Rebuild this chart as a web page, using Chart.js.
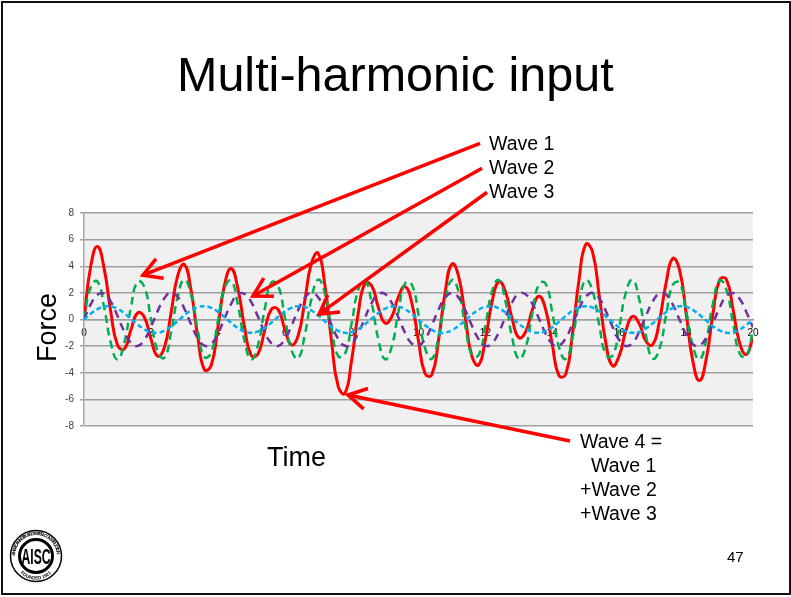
<!DOCTYPE html>
<html><head><meta charset="utf-8">
<script src="https://cdn.jsdelivr.net/npm/chart.js@4"></script>
<style>
html,body{margin:0;padding:0;background:#fff;overflow:hidden}
#slide{position:relative;width:791px;height:597px;background:#fff;font-family:"Liberation Sans",Arial,sans-serif;color:#000}
#frame{position:absolute;left:1px;top:1px;width:786px;height:590px;border:2px solid #111;box-sizing:content-box;pointer-events:none}
canvas{position:absolute;left:0;top:0}
.t{position:absolute;white-space:pre;line-height:1}
#logo{position:absolute;left:8px;top:528px}
</style></head><body>
<div id="slide">
<canvas id="c" width="791" height="597"></canvas>
<div id="frame"></div>
<div class="t" style="left:177px;top:50px;font-size:48.500px">Multi-harmonic input</div>
<div class="t" style="left:489px;top:134px;font-size:19.500px">Wave 1</div>
<div class="t" style="left:489px;top:158px;font-size:19.500px">Wave 2</div>
<div class="t" style="left:489px;top:182px;font-size:19.500px">Wave 3</div>
<div class="t" style="left:580px;top:432px;font-size:19.500px">Wave 4 =</div>
<div class="t" style="left:591px;top:456px;font-size:19.500px">Wave 1</div>
<div class="t" style="left:580px;top:480px;font-size:19.500px">+Wave 2</div>
<div class="t" style="left:580px;top:504px;font-size:19.500px">+Wave 3</div>
<div class="t" style="left:267px;top:444px;font-size:27px">Time</div>
<div class="t" style="left:34px;top:362px;font-size:27px;transform-origin:0 0;transform:rotate(-90deg)">Force</div>
<div class="t" style="left:727px;top:549px;font-size:15px">47</div>
<svg id="logo" width="56" height="56" viewBox="0 0 56 56">
<defs><path id="ringTop" d="M7 28a21 21 0 0 1 42 0"/><path id="ringBot" d="M6.500 30a21.500 21.500 0 0 0 43 0"/></defs>
<circle cx="28" cy="28" r="25.500" fill="#fff" stroke="#000" stroke-width="1.500"/>
<circle cx="28" cy="28" r="16.500" fill="#fff" stroke="#000" stroke-width="3"/>
<text font-family="Liberation Sans" font-size="4.600" font-weight="bold"><textPath href="#ringTop" textLength="64">AMERICAN INSTITUTE OF STEEL CONSTRUCTION</textPath></text>
<text font-family="Liberation Sans" font-size="4.600" font-weight="bold" text-anchor="middle"><textPath href="#ringBot" startOffset="50%">FOUNDED 1921</textPath></text>
<text x="28" y="36" text-anchor="middle" font-family="Liberation Sans" font-size="22" font-weight="bold" textLength="29" lengthAdjust="spacingAndGlyphs">AISC</text>
</svg>
</div>
<script>
const times = [0,0.2,0.4,0.6,0.8,1,1.2,1.4,1.6,1.8,2,2.2,2.4,2.6,2.8,3,3.2,3.4,3.6,3.8,4,4.2,4.4,4.6,4.8,5,5.2,5.4,5.6,5.8,6,6.2,6.4,6.6,6.8,7,7.2,7.4,7.6,7.8,8,8.2,8.4,8.6,8.8,9,9.2,9.4,9.6,9.8,10,10.2,10.4,10.6,10.8,11,11.2,11.4,11.6,11.8,12,12.2,12.4,12.6,12.8,13,13.2,13.4,13.6,13.8,14,14.2,14.4,14.6,14.8,15,15.2,15.4,15.6,15.8,16,16.2,16.4,16.6,16.8,17,17.2,17.4,17.6,17.8,18,18.2,18.4,18.6,18.8,19,19.2,19.4,19.6,19.8,20];
const wave1 = [0,2.42,2.86,0.94,-1.74,-3,-1.8,0.88,2.84,2.47,0.08,-2.38,-2.88,-1.02,1.68,3,1.86,-0.81,-2.81,-2.51,-0.15,2.33,2.9,1.09,-1.62,-2.99,-1.92,0.73,2.78,2.55,0.22,-2.28,-2.92,-1.16,1.55,2.99,1.97,-0.66,-2.75,-2.59,-0.3,2.24,2.93,1.23,-1.49,-2.98,-2.03,0.59,2.72,2.62,0.37,-2.19,-2.95,-1.29,1.43,2.97,2.08,-0.52,-2.69,-2.66,-0.44,2.13,2.96,1.36,-1.36,-2.96,-2.13,0.44,2.66,2.69,0.52,-2.08,-2.97,-1.43,1.29,2.95,2.19,-0.37,-2.62,-2.72,-0.59,2.03,2.98,1.49,-1.23,-2.93,-2.24,0.3,2.59,2.75,0.66,-1.97,-2.99,-1.55,1.16,2.92,2.28,-0.22,-2.55,-2.78,-0.73];
const wave2 = [0,1.13,1.86,1.95,1.35,0.28,-0.89,-1.74,-1.99,-1.55,-0.56,0.62,1.59,2,1.71,0.82,-0.35,-1.4,-1.96,-1.84,-1.07,0.07,1.18,1.89,1.93,1.3,0.22,-0.94,-1.78,-1.99,-1.5,-0.49,0.69,1.63,2,1.67,0.76,-0.41,-1.45,-1.97,-1.81,-1.02,0.13,1.24,1.91,1.91,1.25,0.15,-1.01,-1.81,-1.98,-1.46,-0.43,0.75,1.67,2,1.64,0.7,-0.48,-1.49,-1.98,-1.78,-0.96,0.2,1.29,1.93,1.89,1.2,0.08,-1.06,-1.83,-1.96,-1.41,-0.36,0.81,1.7,2,1.6,0.64,-0.55,-1.54,-1.99,-1.75,-0.9,0.27,1.34,1.95,1.87,1.14,0.01,-1.12,-1.86,-1.95,-1.36,-0.3,0.87,1.74,1.99,1.56,0.57,-0.61];
const wave3 = [0,0.43,0.77,0.97,0.98,0.81,0.48,0.06,-0.37,-0.73,-0.95,-0.99,-0.84,-0.53,-0.12,0.31,0.69,0.93,1,0.88,0.59,0.18,-0.25,-0.64,-0.91,-1,-0.9,-0.63,-0.24,0.19,0.59,0.88,1,0.93,0.68,0.3,-0.13,-0.54,-0.85,-0.99,-0.95,-0.72,-0.36,0.07,0.49,0.81,0.98,0.97,0.77,0.42,-0.01,-0.43,-0.78,-0.97,-0.98,-0.8,-0.47,-0.05,0.38,0.74,0.95,0.99,0.84,0.53,0.11,-0.32,-0.69,-0.93,-1,-0.87,-0.58,-0.18,0.26,0.65,0.91,1,0.9,0.63,0.24,-0.2,-0.6,-0.88,-1,-0.93,-0.67,-0.3,0.14,0.55,0.85,0.99,0.95,0.72,0.35,-0.08,-0.5,-0.82,-0.99,-0.96,-0.76,-0.41,0.02];
const wave4 = [0,3.98,5.49,3.86,0.59,-1.91,-2.21,-0.8,0.48,0.19,-1.44,-2.75,-2.13,0.45,3.27,4.13,2.19,-1.28,-3.77,-3.47,-0.64,2.58,3.83,2.33,-0.59,-2.69,-2.6,-0.84,0.76,0.76,-0.69,-1.9,-1.23,1.4,4.23,4.97,2.6,-1.62,-5.05,-5.55,-3.06,0.5,2.71,2.53,0.91,-0.26,0.21,1.71,2.48,1.24,-1.62,-4.08,-4.15,-1.52,2.11,4.17,3.24,0.13,-2.79,-3.41,-1.47,1.34,2.84,2.09,0.05,-1.36,-0.94,0.7,1.74,0.76,-1.89,-4.22,-4.12,-1.14,3.01,5.65,5.09,1.85,-1.75,-3.47,-2.73,-0.85,0.23,-0.33,-1.63,-1.89,-0.15,2.72,4.58,3.76,0.49,-3.11,-4.59,-2.99,0.37,2.97,3.03,0.81,-1.75,-2.62,-1.33];
const arrowTipX = [1.76,5.05,7.03,7.89];
const arrowTipY = [3.33,1.76,0.4,-5.67];
const arrowTailX = [11.84,11.9,12.05,14.53];
const arrowTailY = [13.23,11.36,9.56,-9.13];

const pts = a => a.map((y,i)=>({x:times[i],y}));
const ds = (label,data,color,dash,w) => ({label,data:pts(data),borderColor:color,borderWidth:w,borderDash:dash,pointRadius:0,tension:0.5,fill:false,showLine:true});

const plotBg = {id:'plotBg',beforeDraw(ch){const a=ch.chartArea,c=ch.ctx;c.save();c.fillStyle='#f0f0f0';c.fillRect(a.left,a.top,a.right-a.left,a.bottom-a.top);c.restore();}};
const arrows = {id:'arrows',afterDraw(ch){
  const c=ch.ctx,X=ch.scales.x,Y=ch.scales.y;
  c.save();c.strokeStyle='#ff0000';c.lineWidth=3.500;c.lineCap='butt';c.lineJoin='miter';
  arrowTipX.forEach((_,i)=>{
    const tx=X.getPixelForValue(arrowTipX[i]),ty=Y.getPixelForValue(arrowTipY[i]);
    const sx=X.getPixelForValue(arrowTailX[i]),sy=Y.getPixelForValue(arrowTailY[i]);
    const ang=Math.atan2(sy-ty,sx-tx),len=21,sp=0.52;
    c.beginPath();c.moveTo(sx,sy);c.lineTo(tx,ty);c.stroke();
    c.beginPath();
    c.moveTo(tx+len*Math.cos(ang+sp),ty+len*Math.sin(ang+sp));
    c.lineTo(tx,ty);
    c.lineTo(tx+len*Math.cos(ang-sp),ty+len*Math.sin(ang-sp));
    c.stroke();
  });
  c.restore();
}};

new Chart(document.getElementById('c'),{
  type:'scatter',
  data:{datasets:[
    ds('Wave 3',wave3,'#00b0f0',[5,3],2.500),
    ds('Wave 2',wave2,'#7030a0',[8,6],2.500),
    ds('Wave 1',wave1,'#00b050',[8,5],2.500),
    ds('Wave 4',wave4,'#ff0000',[],3)
  ]},
  options:{
    responsive:false,animation:false,
    layout:{padding:{left:54,right:38,top:213,bottom:171}},
    plugins:{legend:{display:false},title:{display:false},tooltip:{enabled:false}},
    scales:{
      x:{type:'linear',min:0,max:20,position:{y:0},
        grid:{display:false},border:{color:'#a0a0a0',width:1.500},
        ticks:{stepSize:2,color:'#000',font:{family:'Liberation Sans',size:10},padding:0,maxRotation:0,autoSkip:false}},
      y:{min:-8,max:8,afterFit(s){s.width=30;},
        grid:{color:'#a0a0a0',lineWidth:1.500,tickColor:'#a0a0a0',tickLength:4,drawTicks:true},border:{color:'#a6a6a6',width:1.500},
        ticks:{stepSize:2,color:'#404040',font:{family:'Liberation Sans',size:10},padding:6}}
    }
  },
  plugins:[plotBg,arrows]
});
</script>
</body></html>
